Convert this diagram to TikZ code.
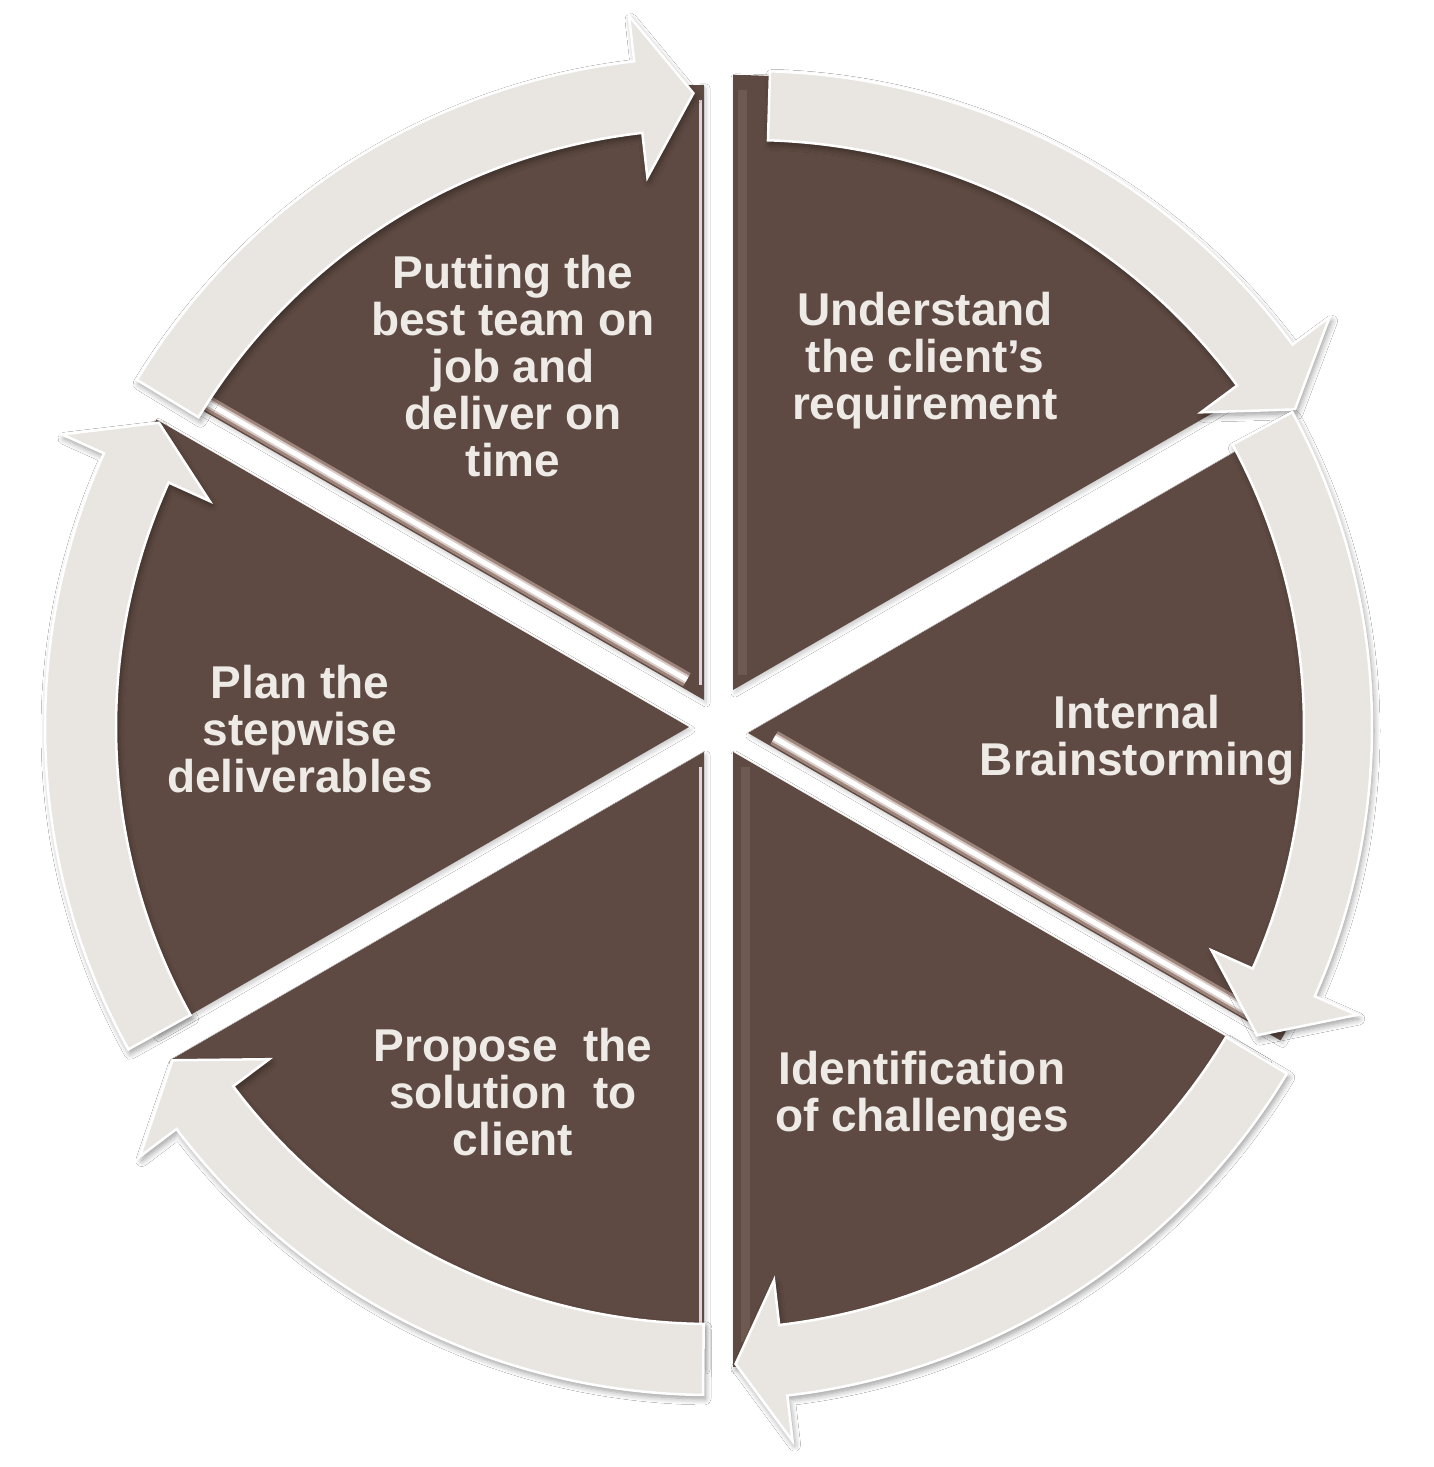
\documentclass[tikz,border=0pt]{standalone}
\usepackage{fontspec}
\setmainfont{Liberation Sans}
\usetikzlibrary{shadows.blur,calc}
\definecolor{wedgebrown}{HTML}{5E4A42}
\definecolor{arrowfill}{HTML}{E9E6E2}
\definecolor{labeltext}{HTML}{EEEAE6}
\definecolor{glosspink}{HTML}{C8ADA3}
\definecolor{edgelav}{HTML}{DCD3DE}
\definecolor{edgebrown}{HTML}{7C665D}

% circular arrow: #1 centre, #2 inner r, #3 outer r, #4 tail angle, #5 head base angle, #6 tip angle
\newcommand\cycarrow[6]{%
  \pgfmathsetmacro\rmid{(#2+#3)/2}%
  \pgfmathsetmacro\rbi{#2-45}%
  \pgfmathsetmacro\rbo{#3+46}%
  \path[cyclearrow, shift={#1}] (#4:#2pt) -- (#4:#3pt)
    arc[start angle=#4, end angle=#5, radius=#3pt]
    -- (#5:\rbo pt) -- (#6:\rmid pt) -- (#5:\rbi pt) -- (#5:#2pt)
    arc[start angle=#5, end angle=#4, radius=#2pt] -- cycle;}

% pie wedge: #1 apex, #2 start angle, #3 end angle
\newcommand\cycwedge[3]{%
  \path[wedgeshape] #1 -- ++(#2:615pt) arc[start angle=#2, end angle=#3, radius=615pt] -- cycle;}

\tikzset{
  cyclearrow/.style={fill=arrowfill, draw=white, line width=2.5pt, line join=miter,
    blur shadow={shadow xshift=2pt, shadow yshift=-4pt, shadow blur radius=6pt,
      shadow blur steps=8, shadow opacity=40}},
  wedgeshape/.style={fill=wedgebrown,
    blur shadow={shadow xshift=2pt, shadow yshift=-3pt, shadow blur radius=4pt,
      shadow blur steps=6, shadow opacity=20}},
  glosswide/.style={line width=15pt, color=glosspink, opacity=.6},
  glossmid/.style={line width=9pt, color=glosspink!40!white, opacity=.8},
  glossthin/.style={line width=5pt, color=white},
  edgeline/.style={line width=3pt, color=edgelav},
  edgesoft/.style={line width=9pt, color=edgebrown, opacity=.55},
  lbl/.style={text=labeltext, align=center, inner sep=0pt,
    font=\fontsize{46}{47}\selectfont\bfseries}
}

\begin{document}
\begin{tikzpicture}[x=1pt, y=1pt]
\fill[white] (0,0) rectangle (1434,1467);
\useasboundingbox (0,0) rectangle (1434,1467);

% wedges
\cycwedge{(733,777)}{30}{90}
\cycwedge{(748,734)}{-30}{30}
\cycwedge{(733,715)}{-90}{-30}
\cycwedge{(704,715)}{-150}{-90}
\cycwedge{(689,740)}{150}{210}
\cycwedge{(704,767)}{90}{150}

% gloss on wedge edges
\foreach \gs in {glosswide,glossmid,glossthin}{
  \draw[\gs] ($(704,767)+(150:25pt)+(60:9pt)$) -- ($(704,767)+(150:590pt)+(60:9pt)$);
  \draw[\gs] ($(748,734)+(-30:25pt)+(60:9pt)$) -- ($(748,734)+(-30:575pt)+(60:9pt)$);
}
\draw[edgeline] ($(704,767)+(90:15pt)+(180:4pt)$) -- ($(704,767)+(90:600pt)+(180:4pt)$);
\draw[edgeline] ($(704,715)+(-90:15pt)+(180:4pt)$) -- ($(704,715)+(-90:600pt)+(180:4pt)$);
\draw[edgesoft] ($(733,777)+(90:15pt)+(0:9pt)$) -- ($(733,777)+(90:600pt)+(0:9pt)$);
\draw[edgesoft] ($(733,715)+(-90:15pt)+(0:12pt)$) -- ($(733,715)+(-90:590pt)+(0:12pt)$);

% circular arrows
\cycarrow{(750,721)}{606}{675}{88.3}{36.5}{31.7}
\cycarrow{(710,740)}{594}{662}{28.4}{-24}{-29.4}
\cycarrow{(710,740)}{602}{673}{-31}{-83.4}{-87.7}
\cycarrow{(710,740)}{597}{668}{-90.6}{-143}{-148.2}
\cycarrow{(710,740)}{594}{665}{209}{155.7}{151.1}
\cycarrow{(710,740)}{598}{670}{148.8}{96.5}{91.5}

% labels
\node[lbl] (putting) at (513,1101) {Putting the\\best team on\\job and\\deliver on\\time};
\node[lbl] (understand) at (925,1106) {Understand\\the client’s\\requirement};
\node[lbl] (internal) at (1137,727) {Internal\\Brainstorming};
\node[lbl] (identification) at (922,371) {Identification\\of challenges};
\node[lbl] (propose) at (513,375) {Propose\ \ the\\solution\ \ to\\client};
\node[lbl] (plan) at (300,738) {Plan the\\stepwise\\deliverables};
\end{tikzpicture}
\end{document}
